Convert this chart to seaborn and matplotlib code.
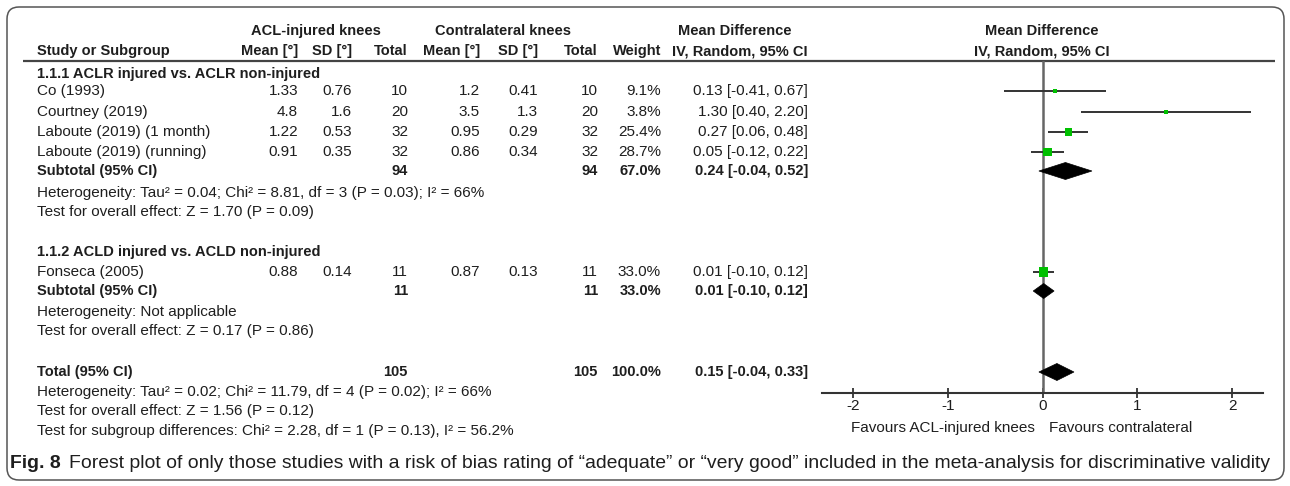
import matplotlib
matplotlib.use("Agg")
import matplotlib.pyplot as plt
import seaborn as sns
import pandas as pd
from matplotlib.patches import Polygon, FancyBboxPatch
from matplotlib import font_manager

# ---------------- data ----------------
studies = ["Co (1993)", "Courtney (2019)", "Laboute (2019) (1 month)",
           "Laboute (2019) (running)", "Fonseca (2005)"]
acl_mean = [1.33, 4.8, 1.22, 0.91, 0.88]
acl_sd = [0.76, 1.6, 0.53, 0.35, 0.14]
acl_n = [10, 20, 32, 32, 11]
con_mean = [1.2, 3.5, 0.95, 0.86, 0.87]
con_sd = [0.41, 1.3, 0.29, 0.34, 0.13]
con_n = [10, 20, 32, 32, 11]
weight = [9.1, 3.8, 25.4, 28.7, 33.0]
md = [0.13, 1.30, 0.27, 0.05, 0.01]
md_lo = [-0.41, 0.40, 0.06, -0.12, -0.10]
md_hi = [0.67, 2.20, 0.48, 0.22, 0.12]

groups = ["1.1.1 ACLR injured vs. ACLR non-injured",
          "1.1.2 ACLD injured vs. ACLD non-injured"]
sub_n_acl = [94, 11]
sub_n_con = [94, 11]
sub_w = [67.0, 33.0]
sub_md = [0.24, 0.01]
sub_lo = [-0.04, -0.10]
sub_hi = [0.52, 0.12]
sub_het = ["Heterogeneity: Tau\u00b2 = 0.04; Chi\u00b2 = 8.81, df = 3 (P = 0.03); I\u00b2 = 66%",
           "Heterogeneity: Not applicable"]
sub_test = ["Test for overall effect: Z = 1.70 (P = 0.09)",
            "Test for overall effect: Z = 0.17 (P = 0.86)"]

tot_n_acl = 105
tot_n_con = 105
tot_w = 100.0
tot_md = 0.15
tot_lo = -0.04
tot_hi = 0.33
tot_lines = ["Heterogeneity: Tau\u00b2 = 0.02; Chi\u00b2 = 11.79, df = 4 (P = 0.02); I\u00b2 = 66%",
             "Test for overall effect: Z = 1.56 (P = 0.12)",
             "Test for subgroup differences: Chi\u00b2 = 2.28, df = 1 (P = 0.13), I\u00b2 = 56.2%"]

x_ticks = [-2, -1, 0, 1, 2]
favours_left = "Favours ACL-injured knees"
favours_right = "Favours contralateral"
caption_bold = "Fig. 8"
caption_text = ("Forest plot of only those studies with a risk of bias rating of \u201cadequate\u201d "
                "or \u201cvery good\u201d included in the meta-analysis for discriminative validity")

# ---------------- layout (pixels) ----------------
W, H = 1290, 486
study_y = [91, 112, 132, 152, 272]
head_y = [74, 252]
sub_y = [171, 291]
het_y = [193, 312]
test_y = [212, 331]
tot_y = 372
tot_line_y = [392, 411, 431]

sns.set_theme(style="white")
plt.rcParams["font.family"] = ["Liberation Sans", "DejaVu Sans"]
FS = 11.0     # regular
FSB = 10.5    # bold
TC = "#1e1e1e"

installed = {f.name for f in font_manager.fontManager.ttflist}
cap_family = ["Liberation Sans Narrow", "Liberation Sans"] if "Liberation Sans Narrow" in installed \
    else ["Liberation Sans", "DejaVu Sans"]

fig = plt.figure(figsize=(W / 100, H / 100), dpi=100)
bg = fig.add_axes([0, 0, 1, 1])
bg.set_xlim(0, W)
bg.set_ylim(H, 0)
bg.axis("off")

# outer rounded border
border = FancyBboxPatch((7, 7), W - 13, H - 13,
                        boxstyle="round,pad=0,rounding_size=12",
                        fill=False, ec="#555555", lw=1.1)
bg.add_patch(border)

def t(x, y, s, ha="left", bold=False, size=None, **kw):
    if size is None:
        size = FSB if bold else FS
    return bg.text(x, y, s, ha=ha, va="center", fontsize=size,
                   fontweight="bold" if bold else "normal", color=TC, **kw)

# column right edges
X_LABEL = 37
X_AM, X_ASD, X_AN = 298, 352, 408
X_CM, X_CSD, X_CN = 480, 538, 598
X_W, X_CI = 661, 808

# headers
t(316, 31, "ACL-injured knees", ha="center", bold=True)
t(503, 31, "Contralateral knees", ha="center", bold=True)
t(735, 31, "Mean Difference", ha="center", bold=True)
t(1042, 31, "Mean Difference", ha="center", bold=True)
t(X_LABEL, 51, "Study or Subgroup", bold=True)
for x, s in [(X_AM, "Mean [\u00b0]"), (X_ASD, "SD [\u00b0]"), (X_AN, "Total"),
             (X_CM, "Mean [\u00b0]"), (X_CSD, "SD [\u00b0]"), (X_CN, "Total"),
             (X_W, "Weight"), (X_CI, "IV, Random, 95% CI")]:
    t(x, 51, s, ha="right", bold=True)
t(1042, 51, "IV, Random, 95% CI", ha="center", bold=True)
bg.plot([23, 1275], [61, 61], color="#444444", lw=1.6, solid_capstyle="butt")

# study rows
for i, name in enumerate(studies):
    y = study_y[i]
    t(X_LABEL, y, name)
    t(X_AM, y, f"{acl_mean[i]:g}", ha="right")
    t(X_ASD, y, f"{acl_sd[i]:g}", ha="right")
    t(X_AN, y, f"{acl_n[i]}", ha="right")
    t(X_CM, y, f"{con_mean[i]:g}", ha="right")
    t(X_CSD, y, f"{con_sd[i]:g}", ha="right")
    t(X_CN, y, f"{con_n[i]}", ha="right")
    t(X_W, y, f"{weight[i]:.1f}%", ha="right")
    t(X_CI, y, f"{md[i]:.2f} [{md_lo[i]:.2f}, {md_hi[i]:.2f}]", ha="right")

for g in range(len(groups)):
    t(X_LABEL, head_y[g], groups[g], bold=True)
    t(X_LABEL, sub_y[g], "Subtotal (95% CI)", bold=True)
    t(X_AN, sub_y[g], f"{sub_n_acl[g]}", ha="right", bold=True)
    t(X_CN, sub_y[g], f"{sub_n_con[g]}", ha="right", bold=True)
    t(X_W, sub_y[g], f"{sub_w[g]:.1f}%", ha="right", bold=True)
    t(X_CI, sub_y[g], f"{sub_md[g]:.2f} [{sub_lo[g]:.2f}, {sub_hi[g]:.2f}]", ha="right", bold=True)
    t(X_LABEL, het_y[g], sub_het[g])
    t(X_LABEL, test_y[g], sub_test[g])

t(X_LABEL, tot_y, "Total (95% CI)", bold=True)
t(X_AN, tot_y, f"{tot_n_acl}", ha="right", bold=True)
t(X_CN, tot_y, f"{tot_n_con}", ha="right", bold=True)
t(X_W, tot_y, f"{tot_w:.1f}%", ha="right", bold=True)
t(X_CI, tot_y, f"{tot_md:.2f} [{tot_lo:.2f}, {tot_hi:.2f}]", ha="right", bold=True)
for s, y in zip(tot_lines, tot_line_y):
    t(X_LABEL, y, s)

t(1035, 428, favours_left, ha="right")
t(1049, 428, favours_right, ha="left")

# caption: fit width between x=10 and about x=1272
renderer = fig.canvas.get_renderer()
cap_size = 13.0
cb = t(10, 463, caption_bold, bold=True, size=cap_size, family=cap_family)
ct = t(10, 463, caption_text, size=cap_size, family=cap_family)
wb = cb.get_window_extent(renderer).width
wt = ct.get_window_extent(renderer).width
gap_frac = 8.0 / 13.0
scale = (1266 - 10) / (wb + wt + gap_frac * cap_size)
new_size = cap_size * scale
cb.set_fontsize(new_size)
ct.set_fontsize(new_size)
ct.set_x(10 + wb * scale + gap_frac * new_size)

# ---------------- forest axes ----------------
AX_L, AX_R, AX_T, AX_B = 822, 1263, 61, 393
X0_PX, PX_PER_UNIT = 1042.7, 94.7
fa = fig.add_axes([AX_L / W, (H - AX_B) / H, (AX_R - AX_L) / W, (AX_B - AX_T) / H])
fa.set_xlim((AX_L - X0_PX) / PX_PER_UNIT, (AX_R - X0_PX) / PX_PER_UNIT)
fa.set_ylim(AX_B, AX_T)
fa.patch.set_alpha(0)
for sp in ["top", "left", "right"]:
    fa.spines[sp].set_visible(False)
fa.spines["bottom"].set_color("#333333")
fa.spines["bottom"].set_linewidth(1.5)
fa.set_yticks([])
fa.set_xticks(x_ticks)
fa.set_xticklabels([f"{v}" for v in x_ticks])
fa.tick_params(axis="x", direction="inout", length=7, width=1.3, color="#333333",
               labelsize=FS, labelcolor=TC, pad=1, bottom=True)

fa.axvline(0, color="#666666", lw=1.8, zorder=1)

df = pd.DataFrame({"md": md, "lo": md_lo, "hi": md_hi, "w": weight, "y": study_y})
fa.hlines(df["y"], df["lo"], df["hi"], color="#333333", lw=1.4, zorder=2)

side_px = [max(3.6, 0.29 * w) for w in weight]
sizes = {w: (s * 0.72) ** 2 for w, s in zip(weight, side_px)}
sns.scatterplot(data=df, x="md", y="y", size="w", sizes=sizes, marker="s",
                color="#00c000", edgecolor="none", linewidth=0, legend=False,
                ax=fa, zorder=3)
fa.set_xlabel("")
fa.set_ylabel("")

def diamond(c, lo, hi, y, hh):
    fa.add_patch(Polygon([[lo, y], [c, y - hh], [hi, y], [c, y + hh]],
                         closed=True, fc="black", ec="black", lw=0.5, zorder=4))

for g in range(len(groups)):
    diamond(sub_md[g], sub_lo[g], sub_hi[g], sub_y[g], 8.5 if g == 0 else 7.5)
diamond(tot_md, tot_lo, tot_hi, tot_y, 8.5)

fig.savefig("out.png", dpi=100)
